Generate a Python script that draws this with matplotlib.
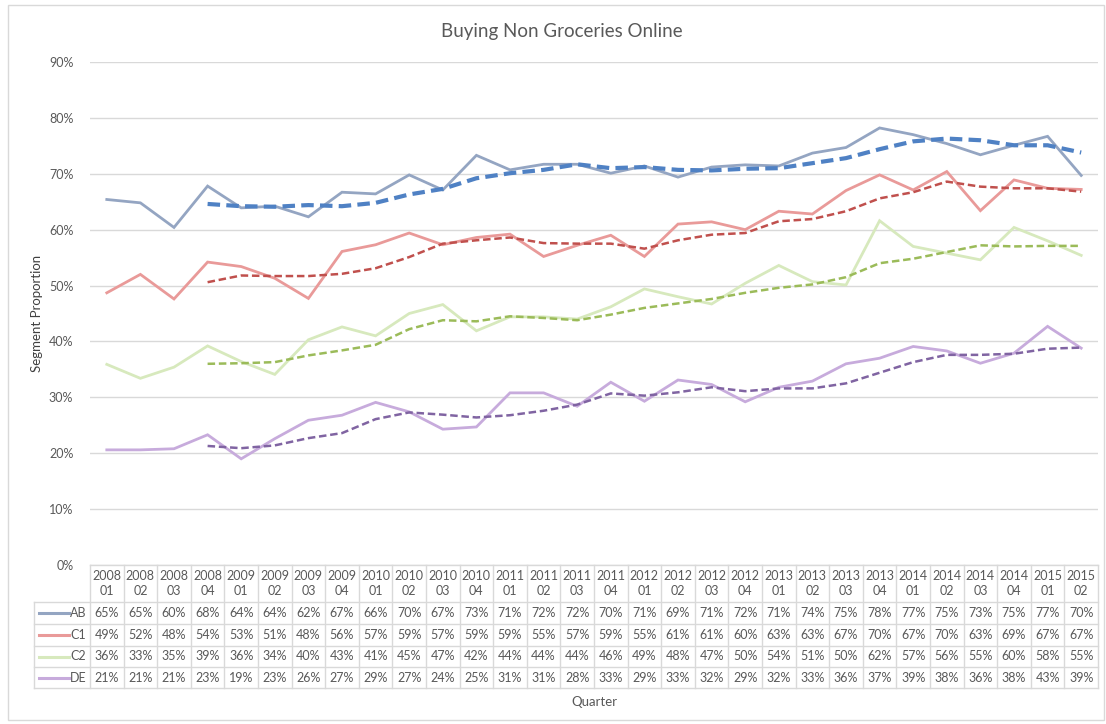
import matplotlib
matplotlib.use('Agg')
import matplotlib.pyplot as plt
from matplotlib.transforms import blended_transform_factory
from matplotlib.patches import Rectangle

plt.rcParams['font.family'] = ['Lato', 'DejaVu Sans']

# quarters
years = ['2008'] * 4 + ['2009'] * 4 + ['2010'] * 4 + ['2011'] * 4 + \
        ['2012'] * 4 + ['2013'] * 4 + ['2014'] * 4 + ['2015'] * 2
quarters = ['01', '02', '03', '04'] * 7 + ['01', '02']

# segment proportions (%)
ab = [65.4, 64.8, 60.4, 67.8, 63.9, 64.2, 62.3, 66.7, 66.4, 69.8, 67.1, 73.3,
      70.7, 71.7, 71.7, 70.1, 71.4, 69.4, 71.2, 71.6, 71.4, 73.7, 74.7, 78.2,
      77.0, 75.4, 73.4, 75.1, 76.7, 69.7]
c1 = [48.7, 52.0, 47.6, 54.2, 53.4, 51.3, 47.7, 56.1, 57.3, 59.4, 57.3, 58.6,
      59.2, 55.2, 57.2, 59.0, 55.2, 61.0, 61.4, 60.0, 63.3, 62.8, 67.0, 69.8,
      67.1, 70.4, 63.4, 68.9, 67.4, 67.2]
c2 = [35.9, 33.4, 35.4, 39.2, 36.4, 34.1, 40.3, 42.6, 41.0, 45.0, 46.6, 41.9,
      44.4, 44.4, 44.0, 46.2, 49.4, 48.0, 46.7, 50.4, 53.6, 50.7, 50.1, 61.6,
      57.0, 55.8, 54.6, 60.4, 58.0, 55.4]
de = [20.6, 20.6, 20.8, 23.3, 19.0, 22.6, 25.9, 26.8, 29.1, 27.4, 24.3, 24.7,
      30.8, 30.8, 28.4, 32.7, 29.3, 33.1, 32.3, 29.2, 31.8, 32.9, 36.0, 37.0,
      39.1, 38.3, 36.1, 37.9, 42.7, 38.8]

# trend lines (4-quarter moving average), from 2008 04
ab_ma = [64.6, 64.2, 64.1, 64.4, 64.2, 64.8, 66.3, 67.3, 69.2, 70.1, 70.7, 71.7,
         71.0, 71.2, 70.7, 70.6, 70.9, 71.0, 71.9, 72.8, 74.4, 75.8, 76.3, 76.0,
         75.1, 75.1, 73.8]
c1_ma = [50.6, 51.8, 51.7, 51.7, 52.1, 53.1, 55.1, 57.5, 58.1, 58.6, 57.6, 57.5,
         57.5, 56.6, 58.1, 59.1, 59.4, 61.5, 61.9, 63.3, 65.6, 66.7, 68.6, 67.7,
         67.4, 67.4, 66.8]
c2_ma = [36.0, 36.1, 36.3, 37.5, 38.4, 39.4, 42.2, 43.8, 43.6, 44.5, 44.2, 43.8,
         44.8, 46.0, 46.8, 47.6, 48.7, 49.6, 50.2, 51.5, 54.0, 54.8, 56.0, 57.2,
         57.0, 57.1, 57.1]
de_ma = [21.3, 20.9, 21.4, 22.7, 23.6, 26.1, 27.3, 26.9, 26.4, 26.8, 27.6, 28.7,
         30.7, 30.3, 30.9, 31.8, 31.1, 31.6, 31.6, 32.5, 34.4, 36.3, 37.6, 37.6,
         37.8, 38.7, 38.9]

labels = ['AB', 'C1', 'C2', 'DE']
series = [ab, c1, c2, de]
trends = [ab_ma, c1_ma, c2_ma, de_ma]
line_colors = ['#94a5c2', '#e99a99', '#d7e9bd', '#c7abdc']
trend_colors = ['#4f81c4', '#c0504d', '#9bbb59', '#8064a2']
trend_widths = [3.0, 1.8, 1.8, 1.8]

W, H = 1106, 724
fig = plt.figure(figsize=(W / 100, H / 100), dpi=100)

def fy(p):
    return (H - p) / H

ax = fig.add_axes([90 / W, fy(565), 1008 / W, fy(62) - fy(565)])

n = len(ab)
x = list(range(n))
xt = list(range(3, n))

for vals, col in zip(series, line_colors):
    ax.plot(x, [v / 100 for v in vals], color=col, lw=2.0, solid_joinstyle='miter', zorder=3)
for vals, col, lw in zip(trends, trend_colors, trend_widths):
    ax.plot(xt, [v / 100 for v in vals], color=col, lw=lw, ls=(0, (3, 1.5)), zorder=4)

ax.set_xlim(-0.5, n - 0.5)
ax.set_ylim(0, 0.9)
ax.set_yticks([i / 10 for i in range(10)])
ax.set_yticklabels(['%d%%' % (i * 10) for i in range(10)], color='#595959', fontsize=9)
ax.tick_params(axis='y', length=0, pad=12)
ax.set_xticks([])
for s in ax.spines.values():
    s.set_visible(False)
ax.grid(axis='y', color='#d9d9d9', lw=1)
ax.set_axisbelow(True)

ax.set_ylabel('Segment Proportion', color='#404040', fontsize=9.5, labelpad=4)
fig.text(562 / W, fy(32), 'Buying Non Groceries Online', ha='center', va='center',
         color='#595959', fontsize=13.5)

# data table under the plot
tr = blended_transform_factory(ax.transData, fig.transFigure)
grid_col = '#d9d9d9'
row_edges = [565, 602, 624, 646, 667, 688]
for p in row_edges[1:]:
    fig.add_artist(plt.Line2D([34 / W, 1098 / W], [fy(p), fy(p)], color=grid_col, lw=1))
fig.add_artist(plt.Line2D([90 / W, 1098 / W], [fy(565), fy(565)], color=grid_col, lw=1))
fig.add_artist(plt.Line2D([34 / W, 34 / W], [fy(602), fy(688)], color=grid_col, lw=1))
for i in range(n + 1):
    ax.add_artist(plt.Line2D([i - 0.5, i - 0.5], [fy(565), fy(688)], color=grid_col,
                             lw=1, transform=tr, clip_on=False))

for i in range(n):
    ax.text(i, fy(583.5), years[i] + '\n' + quarters[i], transform=tr, ha='center',
            va='center', fontsize=9, color='#595959', linespacing=1.25, clip_on=False)
    for r, vals in enumerate(series):
        yc = (row_edges[r + 1] + row_edges[r + 2]) / 2
        ax.text(i, fy(yc), '%d%%' % round(vals[i]), transform=tr, ha='center',
                va='center', fontsize=9, color='#595959', clip_on=False)

for r, (lab, col) in enumerate(zip(labels, line_colors)):
    yc = (row_edges[r + 1] + row_edges[r + 2]) / 2
    fig.add_artist(plt.Line2D([39 / W, 69 / W], [fy(yc), fy(yc)], color=col, lw=2.2))
    fig.text(70 / W, fy(yc), lab, ha='left', va='center', fontsize=9, color='#595959')

fig.text(594 / W, fy(702), 'Quarter', ha='center', va='center', fontsize=9.5, color='#595959')

# chart border
fig.add_artist(Rectangle((8 / W, fy(720)), 1096 / W, (720 - 5) / H, transform=fig.transFigure,
                         fill=False, edgecolor='#d9d9d9', lw=1))

fig.savefig('out.png', dpi=100)
